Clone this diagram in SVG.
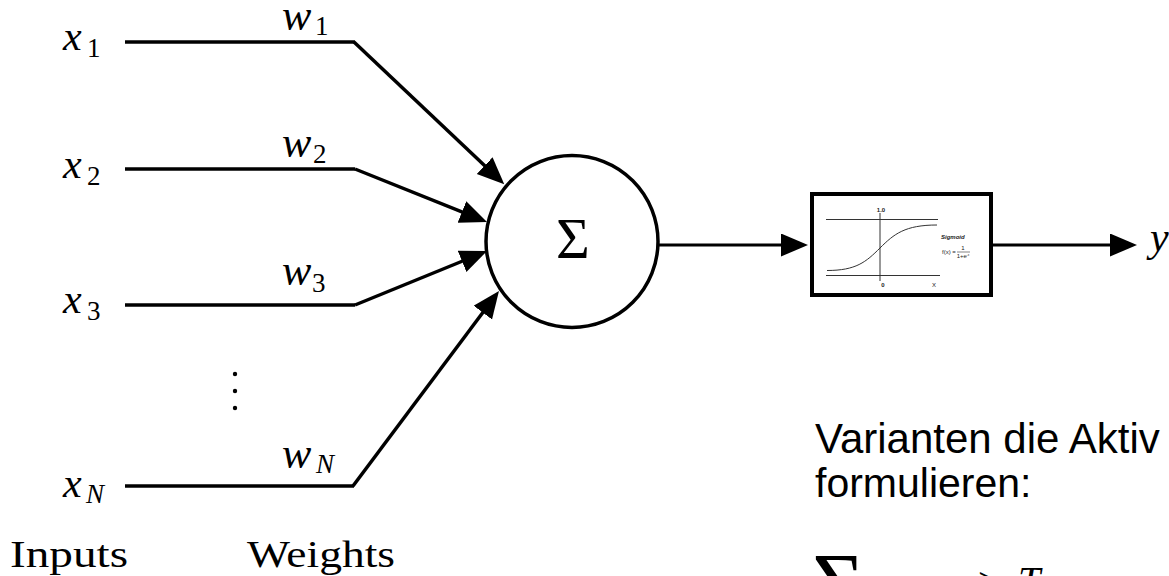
<svg xmlns="http://www.w3.org/2000/svg" width="1169" height="576" viewBox="0 0 1169 576">
  <style>
    .m { font-family: "Liberation Serif", "Times New Roman", serif; font-style: italic; fill: #000; }
    .v { font-size: 42px; }
    .w { font-size: 44px; }
    .s { font-size: 27px; }
    .r { font-family: "Liberation Serif", "Times New Roman", serif; fill: #000; }
    .sans { font-family: "Liberation Sans", Arial, sans-serif; fill: #000; }
    .wire { fill: none; stroke: #000; stroke-width: 3.5; }
    .out { fill: none; stroke: #000; stroke-width: 3; }
    .thin { fill: none; stroke: #333; stroke-width: 1; }
    .tiny { font-family: "Liberation Sans", Arial, sans-serif; fill: #222; font-size: 6px; }
  </style>
  <defs>
    <marker id="ah" markerUnits="userSpaceOnUse" markerWidth="29" markerHeight="24" refX="6" refY="11.5" orient="auto">
      <path d="M0,0 L27,11.5 L0,23 z" fill="#000"/>
    </marker>
  </defs>
  <rect width="1169" height="576" fill="#fff"/>

  <g id="inputs">
    <text class="m v" x="63" y="50">x<tspan class="s" font-style="normal" x="87" y="57">1</tspan></text>
    <text class="m v" x="63" y="178">x<tspan class="s" font-style="normal" x="87" y="185">2</tspan></text>
    <text class="m v" x="63" y="313">x<tspan class="s" font-style="normal" x="87" y="320">3</tspan></text>
    <text class="m v" x="63" y="497">x<tspan class="s" x="86" y="503">N</tspan></text>
    <circle cx="235" cy="374" r="2.2" fill="#000"/>
    <circle cx="235" cy="391" r="2.2" fill="#000"/>
    <circle cx="235" cy="408" r="2.2" fill="#000"/>
    <text class="r" x="10" y="567" font-size="37" textLength="118" lengthAdjust="spacingAndGlyphs">Inputs</text>
  </g>

  <g id="weights">
    <text class="m w" x="282" y="30">w<tspan class="s" font-style="normal" x="315" y="35">1</tspan></text>
    <text class="m w" x="282" y="157">w<tspan class="s" font-style="normal" x="313" y="163">2</tspan></text>
    <text class="m w" x="282" y="285">w<tspan class="s" font-style="normal" x="312" y="292">3</tspan></text>
    <text class="m w" x="282" y="468">w<tspan class="s" x="316" y="473">N</tspan></text>
    <text class="r" x="247" y="567" font-size="37" textLength="148" lengthAdjust="spacingAndGlyphs">Weights</text>
  </g>

  <g id="sum">
    <circle cx="572" cy="241.5" r="86" fill="#fff" stroke="#000" stroke-width="3.5"/>
    <text class="r" x="573" y="258" font-size="58" text-anchor="middle">Σ</text>
  </g>

  <g id="activation">
    <rect x="812" y="194" width="179" height="101" fill="#fff" stroke="#000" stroke-width="4"/>
    <line class="thin" x1="826" y1="219.5" x2="938" y2="219.5"/>
    <line class="thin" x1="826" y1="275.5" x2="940" y2="275.5"/>
    <line class="thin" x1="880" y1="213" x2="880" y2="281"/>
    <path class="thin" d="M827,270.5 C856,270.5 866,262 880,248 C894,234 905,225 937,225"/>
    <text class="tiny" x="881" y="212" text-anchor="middle" font-weight="bold">1.0</text>
    <text class="tiny" x="883" y="287" text-anchor="middle" font-weight="bold">0</text>
    <text class="tiny" x="934" y="287" text-anchor="middle">X</text>
    <text class="tiny" x="941" y="239" font-style="italic" font-weight="bold">Sigmoid</text>
    <text class="tiny" x="942" y="254" font-size="5">f(x) =</text>
    <text class="tiny" x="963" y="250" font-size="5" text-anchor="middle">1</text>
    <line x1="957" y1="252" x2="970" y2="252" stroke="#333" stroke-width="0.6"/>
    <text class="tiny" x="963" y="258" font-size="4.5" text-anchor="middle">1+e<tspan font-size="3" dy="-2">-x</tspan></text>
  </g>

  <g id="output">
    <text class="m" x="1150" y="251" font-size="42">y</text>
  </g>

  <g id="connectors">
    <line class="wire" x1="125" y1="42" x2="355" y2="42"/>
    <line class="wire" x1="125" y1="169" x2="355" y2="169"/>
    <line class="wire" x1="125" y1="305" x2="355" y2="305"/>
    <line class="wire" x1="125" y1="486" x2="354" y2="486"/>
    <line class="wire" x1="354" y1="42" x2="489" y2="169.8" marker-end="url(#ah)"/>
    <line class="wire" x1="355" y1="169" x2="467.5" y2="214.2" marker-end="url(#ah)"/>
    <line class="wire" x1="355" y1="305" x2="467.6" y2="259" marker-end="url(#ah)"/>
    <line class="wire" x1="353" y1="486" x2="486.4" y2="307.8" marker-end="url(#ah)"/>
    <line class="out" x1="658" y1="245" x2="787" y2="245" marker-end="url(#ah)"/>
    <line class="out" x1="993" y1="245" x2="1116" y2="245" marker-end="url(#ah)"/>
  </g>

  <g id="note">
    <text class="sans" x="815" y="453" font-size="42">Varianten die Aktiv</text>
    <text class="sans" x="815" y="497" font-size="41">formulieren:</text>
    <text class="r" x="812" y="616" font-size="90">Σ</text>
    <text class="r" x="978" y="596" font-size="42">≥</text>
    <text class="m" x="1018" y="594" font-size="40">T</text>
  </g>
</svg>
